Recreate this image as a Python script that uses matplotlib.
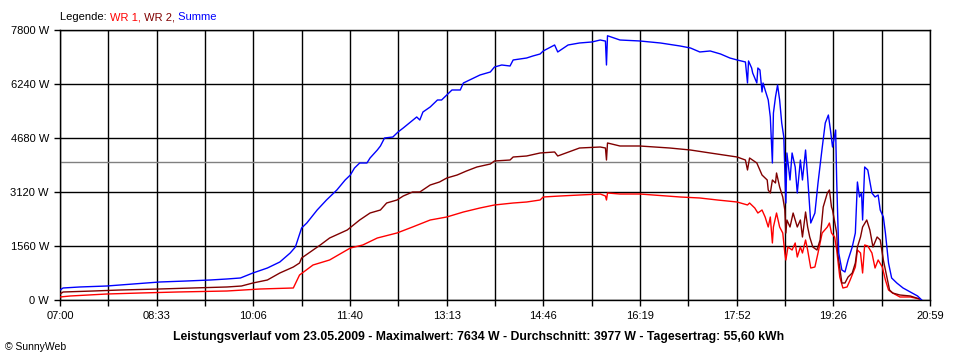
import numpy as np
import matplotlib
matplotlib.use("Agg")
import matplotlib.pyplot as plt

plt.rcParams['font.family'] = ['Liberation Sans', 'DejaVu Sans']

summe_zeit = ["07:00", "07:03", "07:19", "07:45", "08:10", "08:36", "09:02", "09:25", "09:41", "09:54",
              "10:06", "10:20", "10:32", "10:42", "10:47", "10:53", "10:58", "11:08", "11:17", "11:27",
              "11:35", "11:40", "11:44", "11:49", "11:56", "11:59", "12:06", "12:09", "12:13", "12:21",
              "12:26", "12:31", "12:38", "12:44", "12:47", "12:50", "12:57", "13:04", "13:08", "13:13",
              "13:18", "13:26", "13:29", "13:35", "13:45", "13:55", "13:59", "14:06", "14:14", "14:17",
              "14:30", "14:36", "14:43", "14:46", "14:57", "15:00", "15:10", "15:21", "15:33", "15:41",
              "15:46", "15:47", "15:48", "16:00", "16:19", "16:39", "16:58", "17:08", "17:17", "17:27",
              "17:37", "17:46", "17:53", "18:01", "18:03", "18:04", "18:07", "18:08", "18:12", "18:13",
              "18:15", "18:17", "18:18", "18:20", "18:23", "18:25", "18:27", "18:28", "18:30", "18:32",
              "18:34", "18:36", "18:38", "18:40", "18:41", "18:44", "18:46", "18:49", "18:51", "18:54",
              "18:56", "18:59", "19:01", "19:04", "19:08", "19:11", "19:15", "19:18", "19:21", "19:23",
              "19:25", "19:28", "19:29", "19:31", "19:34", "19:37", "19:40", "19:44", "19:47", "19:49",
              "19:51", "19:53", "19:54", "19:56", "19:59", "20:03", "20:06", "20:09", "20:11", "20:14",
              "20:16", "20:19", "20:22", "20:27", "20:33", "20:40", "20:47", "20:51"]
summe_w = [289, 347, 376, 404, 462, 520, 549, 578, 607, 636,
           780, 924, 1098, 1358, 1531, 2080, 2224, 2600, 2889, 3178,
           3467, 3611, 3813, 3958, 3958, 4102, 4333, 4449, 4680, 4709,
           4853, 4969, 5142, 5287, 5200, 5431, 5576, 5778, 5778, 5922,
           6067, 6067, 6269, 6356, 6500, 6587, 6731, 6789, 6760, 6934,
           6991, 7049, 7107, 7194, 7367, 7165, 7367, 7425, 7454, 7511,
           7480, 6789, 7634, 7511, 7483, 7425, 7338, 7280, 7165, 7194,
           7107, 6991, 6934, 6876, 6269, 6905, 6702, 6558, 6269, 6702,
           6645, 6009, 6269, 6067, 5778, 5287, 3958, 5402, 5865, 6211,
           5778, 5114, 4709, 2802, 4247, 3467, 4247, 3842, 3091, 4044,
           3467, 4333, 3553, 2224, 2513, 3380, 4391, 5114, 5344, 4911,
           4420, 4911, 3467, 1358, 867, 809, 1156, 1531, 1936, 3409,
           2976, 3091, 2311, 3842, 3756, 3091, 2976, 3033, 2600, 2398,
           1936, 1069, 636, 491, 347, 231, 116, 0]

wr2_zeit = ["07:00", "07:03", "07:32", "07:58", "08:36", "09:08", "09:41", "09:55", "10:06", "10:20",
            "10:32", "10:45", "10:51", "10:53", "11:11", "11:20", "11:37", "11:49", "11:59", "12:09",
            "12:15", "12:25", "12:31", "12:40", "12:47", "12:57", "13:06", "13:13", "13:23", "13:32",
            "13:42", "13:55", "13:59", "14:14", "14:17", "14:30", "14:43", "14:57", "15:00", "15:21",
            "15:41", "15:46", "15:47", "15:48", "16:00", "16:19", "16:48", "17:08", "17:27", "17:53",
            "18:01", "18:03", "18:05", "18:12", "18:17", "18:22", "18:23", "18:25", "18:27", "18:30",
            "18:31", "18:34", "18:37", "18:39", "18:40", "18:41", "18:44", "18:47", "18:51", "18:54",
            "18:56", "18:59", "19:01", "19:03", "19:06", "19:10", "19:13", "19:16", "19:20", "19:22",
            "19:24", "19:25", "19:29", "19:30", "19:34", "19:37", "19:40", "19:44", "19:47", "19:49",
            "19:52", "19:54", "19:58", "20:01", "20:04", "20:08", "20:11", "20:14", "20:18", "20:20",
            "20:23", "20:30", "20:40", "20:49"]
wr2_w = [173, 231, 260, 289, 318, 347, 376, 404, 491, 578,
         780, 953, 1069, 1213, 1589, 1791, 2022, 2311, 2513, 2600,
         2802, 2889, 3004, 3120, 3120, 3322, 3409, 3524, 3611, 3727,
         3842, 3929, 4016, 4044, 4131, 4160, 4247, 4276, 4160, 4391,
         4420, 4391, 4044, 4536, 4449, 4449, 4391, 4333, 4247, 4131,
         4044, 3756, 4102, 3958, 3611, 3467, 3178, 3091, 3467, 3380,
         3669, 3264, 2976, 2600, 1936, 2311, 2109, 2513, 2109, 2311,
         1820, 2542, 2109, 1820, 1531, 1444, 1733, 2687, 3091, 3178,
         2687, 2600, 1936, 1358, 491, 491, 664, 780, 1069, 1531,
         1820, 2109, 2311, 2022, 1531, 1820, 1733, 1156, 578, 289,
         202, 144, 116, 29]

wr1_zeit = ["07:00", "07:10", "07:45", "08:17", "08:53", "09:41", "10:13", "10:45", "10:51", "11:04",
            "11:20", "11:40", "11:52", "12:06", "12:25", "12:40", "12:57", "13:13", "13:29", "13:45",
            "13:59", "14:17", "14:30", "14:43", "14:46", "15:02", "15:21", "15:41", "15:46", "15:47",
            "15:48", "16:00", "16:19", "16:58", "17:17", "17:34", "17:53", "18:03", "18:05", "18:10",
            "18:13", "18:17", "18:20", "18:23", "18:25", "18:27", "18:28", "18:31", "18:34", "18:37",
            "18:39", "18:40", "18:42", "18:46", "18:49", "18:51", "18:54", "18:56", "18:59", "19:01",
            "19:04", "19:08", "19:11", "19:15", "19:20", "19:22", "19:24", "19:27", "19:29", "19:32",
            "19:35", "19:39", "19:42", "19:47", "19:49", "19:52", "19:54", "19:56", "19:59", "20:03",
            "20:06", "20:09", "20:13", "20:16", "20:19", "20:23", "20:30", "20:40", "20:49"]
wr1_w = [87, 116, 173, 202, 231, 260, 318, 347, 722, 1011,
         1156, 1502, 1589, 1791, 1936, 2109, 2311, 2398, 2542, 2658,
         2745, 2802, 2831, 2889, 2976, 3004, 3033, 3062, 3004, 2889,
         3091, 3062, 3062, 2976, 2947, 2889, 2831, 2745, 2802, 2658,
         2513, 2600, 2398, 2109, 2398, 1647, 2109, 2513, 2109, 1936,
         1358, 1156, 1531, 1444, 1647, 1242, 1531, 1358, 1733, 1444,
         924, 953, 1358, 1936, 2109, 2224, 1936, 1820, 1444, 664,
         347, 376, 578, 953, 1444, 1358, 780, 1589, 1560, 1358,
         924, 1156, 953, 578, 289, 202, 87, 87, 29]

durchschnitt = 3977
y_ticks = [0, 1560, 3120, 4680, 6240, 7800]
x_labels = ["07:00", "08:33", "10:06", "11:40", "13:13", "14:46", "16:19", "17:52", "19:26", "20:59"]
titel = "Leistungsverlauf vom 23.05.2009 - Maximalwert: 7634 W - Durchschnitt: 3977 W - Tagesertrag: 55,60 kWh"


def minuten(liste):
    return np.array([int(s[:2]) * 60 + int(s[3:]) for s in liste])


fig = plt.figure(figsize=(9.6, 3.6), dpi=100)
ax = fig.add_axes([60 / 960, 60 / 360, 870 / 960, 270 / 360])

t0, t1 = minuten(["07:00", "20:59"])
ax.set_xlim(t0, t1)
ax.set_ylim(0, 7800)

# Gitter: jede zweite Linie beschriftet
x_pos = np.linspace(t0, t1, 2 * len(x_labels) - 1)
ax.set_xticks(x_pos)
ax.set_xticklabels([x_labels[i // 2] if i % 2 == 0 else "" for i in range(len(x_pos))])
ax.set_yticks(y_ticks)
ax.set_yticklabels([f"{v} W" for v in y_ticks])
for xp in x_pos:
    ax.axvline(xp, color='black', lw=1.0, zorder=1)
for yp in y_ticks:
    ax.axhline(yp, color='black', lw=1.0, zorder=1)
ax.axhline(durchschnitt, color='#808080', lw=1.0, zorder=1.5)

ax.tick_params(axis='both', direction='out', length=4, width=1, labelsize=8, colors='black', pad=4)
for s in ax.spines.values():
    s.set_linewidth(1.0)

ax.plot(minuten(wr1_zeit), wr1_w, color='#ff0000', lw=1.0, zorder=3)
ax.plot(minuten(wr2_zeit), wr2_w, color='#800000', lw=1.0, zorder=4)
ax.plot(minuten(summe_zeit), summe_w, color='#0000ff', lw=1.0, zorder=5)

# Legende oben links
t = fig.text(60 / 960, 1 - 17 / 360, "Legende: ", fontsize=8, va='center', ha='left')
t = ax.annotate("WR 1,", xy=(1, 0), xycoords=t, va='bottom', ha='left', fontsize=8, color='#ff0000')
t = ax.annotate(" WR 2,", xy=(1, 0), xycoords=t, va='bottom', ha='left', fontsize=8, color='#800000')
t = ax.annotate(" Summe", xy=(1, 0), xycoords=t, va='bottom', ha='left', fontsize=8, color='#0000ff')

fig.text(479 / 960, 1 - 337 / 360, titel, fontsize=8.8, fontweight='bold', ha='center', va='center')
fig.text(5 / 960, 1 - 347 / 360, "© SunnyWeb", fontsize=7.5, ha='left', va='center')

fig.savefig("out.png", dpi=100, facecolor='white')
